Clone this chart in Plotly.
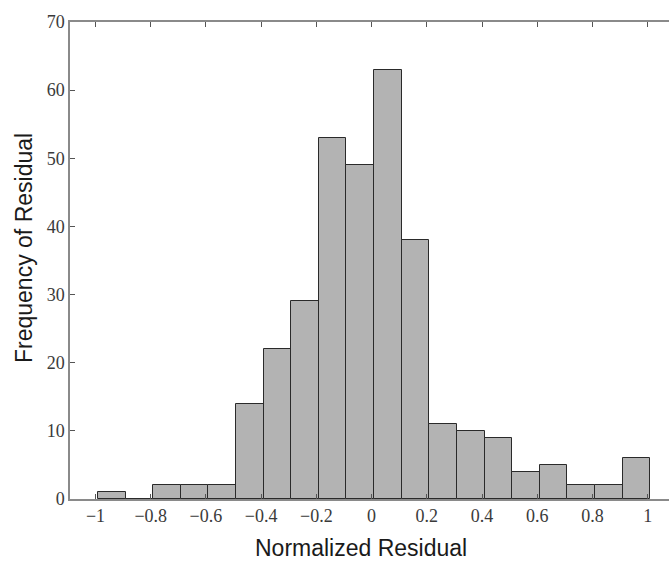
import plotly.graph_objects as go

# Histogram data: counts per bin (bin width 0.1, starting near -1)
bin_start = -0.991
bin_width = 0.1
counts = [1, 0, 2, 2, 2, 14, 22, 29, 53, 49, 63, 38, 11, 10, 9, 4, 5, 2, 2, 6]

x_tick_vals = [-1, -0.8, -0.6, -0.4, -0.2, 0, 0.2, 0.4, 0.6, 0.8, 1]
x_tick_text = ["\u22121", "\u22120.8", "\u22120.6", "\u22120.4", "\u22120.2", "0", "0.2", "0.4", "0.6", "0.8", "1"]
y_tick_vals = [0, 10, 20, 30, 40, 50, 60, 70]

centers = [bin_start + bin_width * (i + 0.5) for i in range(len(counts))]

fig = go.Figure()
fig.add_trace(go.Bar(
    x=centers, y=counts, width=[bin_width] * len(counts),
    marker=dict(color="#b3b3b3", line=dict(color="#2a2a2a", width=1)),
    showlegend=False, hoverinfo="x+y",
))

tick_font = dict(family="Liberation Serif, DejaVu Serif, serif", size=18, color="#3a3a3a")
axis_color = "#8a8a8a"

W, H = 669, 564
ML, MR, MT, MB = 70, 0, 22, 65

fig.update_layout(
    width=W, height=H,
    margin=dict(l=ML, r=MR, t=MT, b=MB, autoexpand=False),
    paper_bgcolor="white", plot_bgcolor="white",
    bargap=0,
    xaxis=dict(
        range=[-1.0923, 1.0771],
        tickvals=x_tick_vals, ticktext=x_tick_text,
        ticks="inside", ticklen=5, tickwidth=1, tickcolor="#555555",
        showline=True, linecolor=axis_color, linewidth=1.5, mirror="ticks",
        showgrid=False, zeroline=False,
        tickfont=tick_font, automargin=False,
    ),
    yaxis=dict(
        range=[0, 70],
        tickvals=y_tick_vals,
        ticks="inside", ticklen=5, tickwidth=1, tickcolor="#555555",
        showline=True, linecolor=axis_color, linewidth=1.5, mirror=False,
        showgrid=False, zeroline=False,
        tickfont=tick_font, automargin=False,
    ),
)

plot_w = W - ML - MR
plot_h = H - MT - MB
title_font = dict(family="Liberation Sans, Arial, sans-serif", size=23, color="#1a1a1a")
# annotation positions given in screen pixels, converted to paper coordinates
for text, px, py, angle in [("Normalized Residual", 361, 548, 0),
                            ("Frequency of Residual", 24, 248, -90)]:
    fig.add_annotation(text=text, x=(px - ML) / plot_w, y=1 - (py - MT) / plot_h,
                       xref="paper", yref="paper", xanchor="center", yanchor="middle",
                       showarrow=False, textangle=angle, font=title_font)

fig.write_html("out.html", config={"displayModeBar": False},
               post_script="document.body.style.margin='0';document.body.style.overflow='hidden';")
